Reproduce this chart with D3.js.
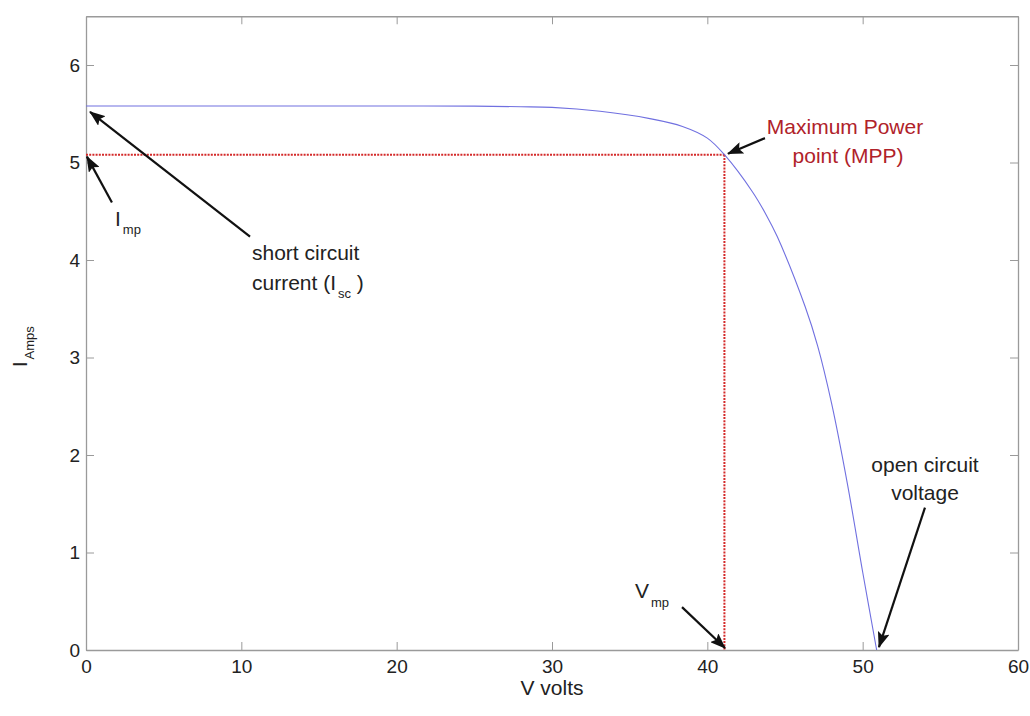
<!DOCTYPE html>
<html>
<head>
<meta charset="utf-8">
<script src="https://cdn.jsdelivr.net/npm/d3@7"></script>
<style>
  body { margin: 0; background: #fff; }
  svg text { font-family: "Liberation Sans", Arial, Helvetica, sans-serif; fill: #222; }
</style>
</head>
<body>
<svg id="chart" width="1030" height="716"></svg>
<script>
// I-V characteristic of the PV module
const voltage = [0, 5, 10, 15, 20, 25, 28, 30, 33.1, 36.3, 38.4, 40.0, 41.1, 42.9, 43.8, 44.5, 46.3, 47.1, 48.0, 49.0, 50.0, 50.9];
const current = [5.58, 5.58, 5.58, 5.58, 5.58, 5.578, 5.572, 5.565, 5.525, 5.45, 5.37, 5.25, 5.08, 4.70, 4.46, 4.24, 3.52, 3.12, 2.53, 1.72, 0.80, 0];

const xTicks = [0, 10, 20, 30, 40, 50, 60];
const yTicks = [0, 1, 2, 3, 4, 5, 6];

// Characteristic points
const vmp = 41.1, imp = 5.08, isc = 5.58, voc = 50.9;

const svg = d3.select("#chart");
const x = d3.scaleLinear().domain([0, 60]).range([86, 1018]);
const y = d3.scaleLinear().domain([0, 6.5]).range([650, 16.25]);

const axisColor = "#9a9a9a";
const fmt = d3.format("d");

// Box with inward ticks on all four sides
function styleAxis(g) {
  g.select(".domain").attr("stroke", axisColor).attr("stroke-width", 1.3);
  g.selectAll(".tick line").attr("stroke", axisColor).attr("stroke-width", 1);
}
svg.append("g").attr("transform", `translate(0,${y(0)})`)
  .call(d3.axisBottom(x).tickValues(xTicks).tickFormat(fmt).tickSizeInner(-8).tickSizeOuter(0).tickPadding(10))
  .call(styleAxis)
  .call(g => g.selectAll(".tick text").attr("font-size", 19).attr("fill", "#222"));
svg.append("g").attr("transform", `translate(${x(0)},0)`)
  .call(d3.axisLeft(y).tickValues(yTicks).tickFormat(fmt).tickSizeInner(-8).tickSizeOuter(0).tickPadding(6))
  .call(styleAxis)
  .call(g => g.selectAll(".tick text").attr("font-size", 19).attr("fill", "#222"));
svg.append("g").attr("transform", `translate(0,${y(6.5)})`)
  .call(d3.axisTop(x).tickValues(xTicks).tickSizeInner(-8).tickSizeOuter(0).tickFormat(""))
  .call(styleAxis);
svg.append("g").attr("transform", `translate(${x(60)},0)`)
  .call(d3.axisRight(y).tickValues(yTicks).tickSizeInner(-8).tickSizeOuter(0).tickFormat(""))
  .call(styleAxis);

// Axis titles
svg.append("text").attr("x", (x(0) + x(60)) / 2).attr("y", 695)
  .attr("text-anchor", "middle").attr("font-size", 21).text("V volts");
const yl = svg.append("text").attr("transform", `translate(27,${y(2.9)}) rotate(-90)`)
  .attr("font-size", 21);
yl.append("tspan").text("I");
yl.append("tspan").attr("font-size", 13).attr("dy", 7).attr("dx", 2).text("Amps");

// MPP guide lines
const red = "#d42a2a";
svg.append("line").attr("x1", x(0)).attr("y1", y(imp)).attr("x2", x(vmp)).attr("y2", y(imp))
  .attr("stroke", red).attr("stroke-width", 2).attr("stroke-dasharray", "2,1.2");
svg.append("line").attr("x1", x(vmp)).attr("y1", y(imp)).attr("x2", x(vmp)).attr("y2", y(0))
  .attr("stroke", red).attr("stroke-width", 2).attr("stroke-dasharray", "2,1.2");

// I-V curve
const pts = voltage.map((v, i) => [v, current[i]]);
svg.append("path").datum(pts)
  .attr("fill", "none").attr("stroke", "#7070e0").attr("stroke-width", 1.1)
  .attr("d", d3.line().x(d => x(d[0])).y(d => y(d[1])).curve(d3.curveCatmullRom.alpha(0.5)));

// Arrowhead marker
svg.append("defs").append("marker")
  .attr("id", "head").attr("markerUnits", "userSpaceOnUse")
  .attr("viewBox", "0 0 16 12").attr("markerWidth", 16).attr("markerHeight", 12)
  .attr("refX", 15).attr("refY", 6).attr("orient", "auto")
  .append("path").attr("d", "M0,0 L16,6 L0,12 L3,6 z").attr("fill", "#111");

// Annotation arrows: [fromV, fromI, toV, toI]
const arrows = [
  [10.56, 4.24, 0.26, 5.52],   // short circuit current
  [1.67, 4.59, 0.06, 5.06],    // I_mp
  [43.71, 5.25, 41.33, 5.09],  // MPP
  [38.37, 0.44, 41.14, 0.02],  // V_mp
  [54.01, 1.46, 51.05, 0.03]   // open circuit voltage
];
svg.selectAll("line.arrow").data(arrows).join("line").attr("class", "arrow")
  .attr("x1", d => x(d[0])).attr("y1", d => y(d[1]))
  .attr("x2", d => x(d[2])).attr("y2", d => y(d[3]))
  .attr("stroke", "#111").attr("stroke-width", 2.2).attr("marker-end", "url(#head)");

// Labels
svg.append("text").attr("x", 252).attr("y", 260).attr("font-size", 21).text("short circuit");
const sc2 = svg.append("text").attr("x", 252).attr("y", 290).attr("font-size", 21);
sc2.append("tspan").text("current (I");
sc2.append("tspan").attr("font-size", 13).attr("dy", 8).attr("dx", 2).text("sc");
sc2.append("tspan").attr("dy", -8).text("  )");

const imLab = svg.append("text").attr("x", 115).attr("y", 226).attr("font-size", 21);
imLab.append("tspan").text("I");
imLab.append("tspan").attr("font-size", 13).attr("dy", 8).attr("dx", 2).text("mp");

svg.append("text").attr("x", 845).attr("y", 134).attr("text-anchor", "middle")
  .attr("font-size", 21).style("fill", "#b0222a").text("Maximum Power");
svg.append("text").attr("x", 848).attr("y", 163).attr("text-anchor", "middle")
  .attr("font-size", 21).style("fill", "#b0222a").text("point (MPP)");

svg.append("text").attr("x", 925).attr("y", 472).attr("text-anchor", "middle")
  .attr("font-size", 21).text("open circuit");
svg.append("text").attr("x", 925).attr("y", 500).attr("text-anchor", "middle")
  .attr("font-size", 21).text("voltage");

const vmLab = svg.append("text").attr("x", 635).attr("y", 598).attr("font-size", 21);
vmLab.append("tspan").text("V");
vmLab.append("tspan").attr("font-size", 13).attr("dy", 9).attr("dx", 2).text("mp");
</script>
</body>
</html>
